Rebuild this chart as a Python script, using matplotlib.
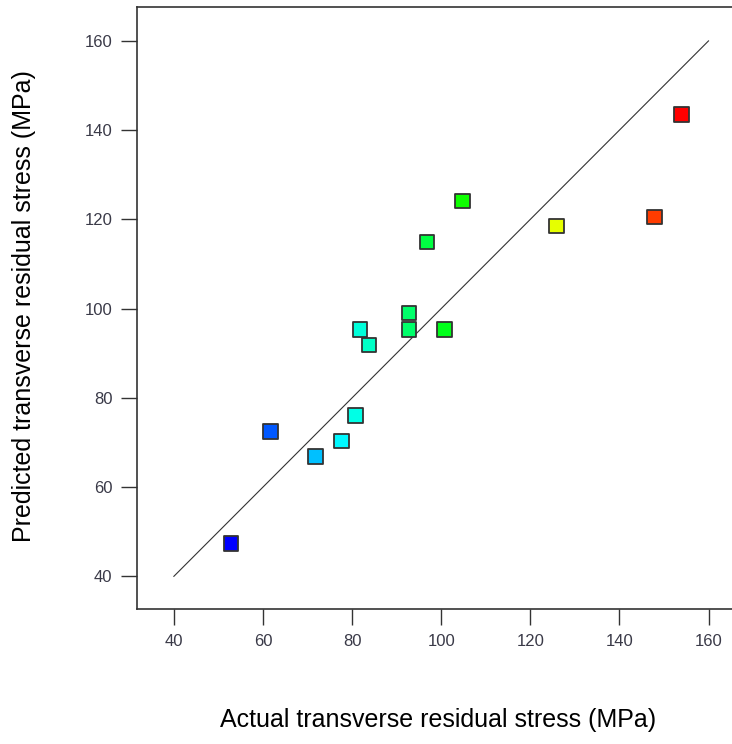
import matplotlib
matplotlib.use("Agg")
import matplotlib.pyplot as plt
from matplotlib.colors import LinearSegmentedColormap

# Actual vs predicted transverse residual stress (MPa)
actual = [52.8, 61.7, 71.8, 77.6, 80.8, 81.8, 83.8, 92.8, 92.8, 100.8,
          96.8, 104.8, 125.9, 147.9, 153.9]
predicted = [47.3, 72.4, 66.8, 70.3, 76.1, 95.3, 91.8, 99.0, 95.3, 95.3,
             114.9, 124.1, 118.5, 120.5, 143.5]
line_ends = [40, 160]
ticks = [40, 60, 80, 100, 120, 140, 160]

plt.rcParams["font.family"] = ["Liberation Sans", "DejaVu Sans"]

regnbue = LinearSegmentedColormap.from_list(
    "regnbue", ["#0000ff", "#00ffff", "#00ff00", "#ffff00", "#ff0000"])

fig = plt.figure(figsize=(7.32, 7.44), dpi=100)
ax = fig.add_axes([0.187, 0.181, 0.815, 0.8096])

ax.plot(line_ends, line_ends, color="#333333", linewidth=0.8, zorder=1)
ax.scatter(actual, predicted, c=actual, cmap=regnbue,
           vmin=min(actual), vmax=max(actual),
           marker="s", s=110, edgecolors="#333333", linewidths=1.3, zorder=2)

ax.set_xlim(31.7, 165.6)
ax.set_ylim(32.6, 167.6)
ax.set_xticks(ticks)
ax.set_yticks(ticks)
ax.tick_params(direction="out", length=11.5, width=1.0, labelsize=12,
               color="#333333", labelcolor="#3a3a48")
ax.tick_params(axis="x", pad=6)
ax.tick_params(axis="y", pad=6)
for s in ax.spines.values():
    s.set_linewidth(1.2)
    s.set_color("#333333")

fig.text(0.598, 0.032, "Actual transverse residual stress (MPa)",
         ha="center", va="center", fontsize=18)
fig.text(0.033, 0.589, "Predicted transverse residual stress (MPa)",
         ha="center", va="center", rotation=90, fontsize=18)

fig.savefig("out.png", dpi=100)
